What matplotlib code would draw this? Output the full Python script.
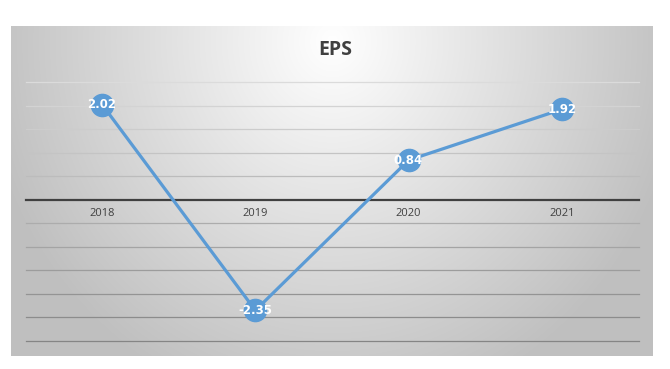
"""EPS by year - Excel style line chart with gradient background."""

import numpy as np
import matplotlib
matplotlib.use('Agg')
import matplotlib.pyplot as plt

# data
years = ['2018', '2019', '2020', '2021']
eps = [2.02, -2.35, 0.84, 1.92]
grid_levels = [-3.0, -2.5, -2.0, -1.5, -1.0, -0.5, 0.5, 1.0, 1.5, 2.0, 2.5]

W, H = 670, 369
fig = plt.figure(figsize=(W / 100, H / 100), dpi=100)
fig.patch.set_facecolor('white')

# chart area with radial gradient (white at top centre, grey at the edges)
bx0, by0, bx1, by1 = 11, 26, 653, 356
bg = fig.add_axes([bx0 / W, 1 - by1 / H, (bx1 - bx0) / W, (by1 - by0) / H])
gw, gh = bx1 - bx0, by1 - by0
xx, yy = np.meshgrid(np.arange(gw), np.arange(gh))
r = np.sqrt(((xx - gw * 0.5) / (gw * 0.55)) ** 2 + ((yy - 15) / (gh * 1.15)) ** 2)
shade = 1.0 - 0.25 * np.clip(r, 0, 1)
bg.imshow(np.dstack([shade] * 3), aspect='auto', interpolation='bilinear')
bg.axis('off')
# thin border around chart area
for s in bg.spines.values():
    s.set_visible(False)

# plot area
px0, py0, px1, py1 = 25.5, 82, 638.5, 341
ax = fig.add_axes([px0 / W, 1 - py1 / H, (px1 - px0) / W, (py1 - py0) / H])
ax.set_facecolor('none')
ax.set_xlim(-0.5, len(years) - 0.5)
ax.set_ylim(-3.0, 2.5)
for s in ax.spines.values():
    s.set_visible(False)
ax.set_xticks([])
ax.set_yticks([])

# gridlines: lighter above zero, darker towards the bottom
for lv in grid_levels:
    t = (2.5 - lv) / 5.5
    c = 0.86 - 0.34 * t
    ax.axhline(lv, color=(c, c, c), lw=0.9, zorder=1, clip_on=False)
ax.axhline(0, color='#404040', lw=1.6, zorder=2, clip_on=False)

x = np.arange(len(years))
ax.plot(x, eps, color='#5b9bd5', lw=2.3, marker='o', markersize=16,
        markerfacecolor='#5b9bd5', markeredgecolor='#5b9bd5', zorder=3, clip_on=False)

for xi, v in zip(x, eps):
    ax.text(xi, v, f'{v:.2f}', ha='center', va='center', color='white',
            fontsize=8.5, fontweight='bold', family='Liberation Sans Narrow',
            zorder=4)

for xi, lab in zip(x, years):
    ax.text(xi, -0.3, lab, ha='center', va='center', color='#404040',
            fontsize=8, family='Open Sans', zorder=4)

fig.text(0.5, 1 - 50 / H, 'EPS', ha='center', va='center', fontsize=14,
         fontweight='bold', color='#404040', family='Open Sans')

fig.savefig('out.png', dpi=100)
